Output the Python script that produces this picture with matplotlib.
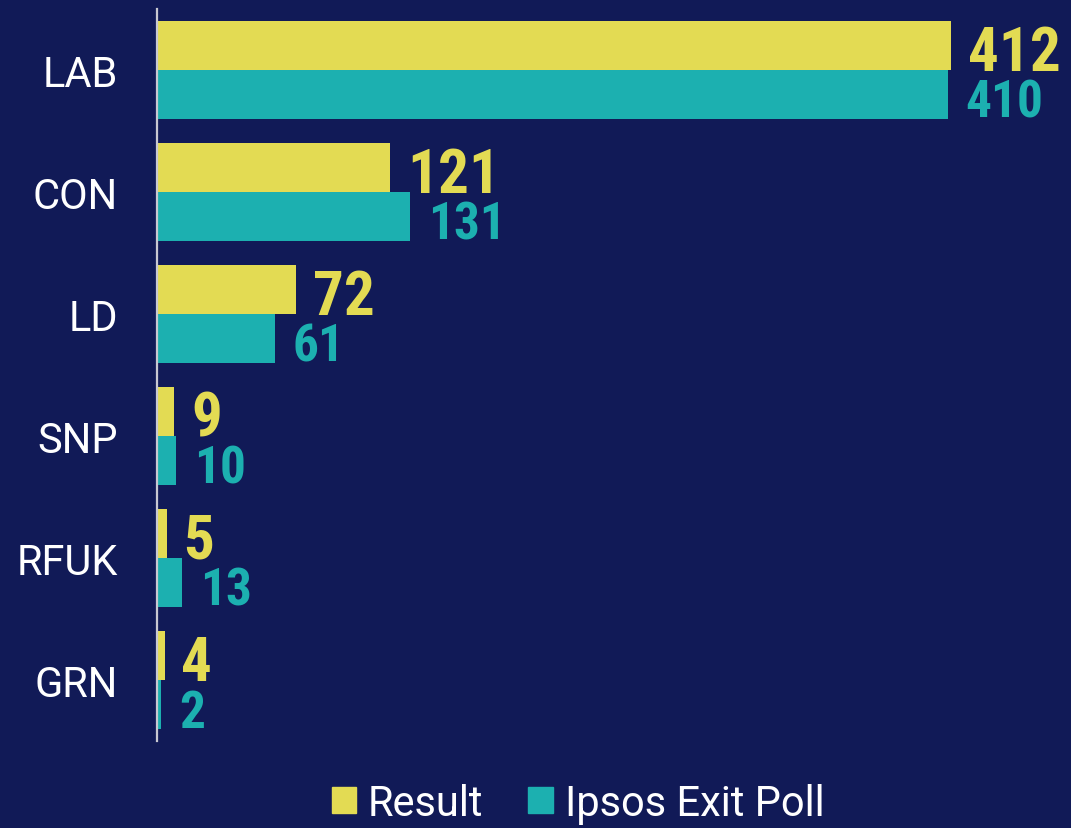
import matplotlib
matplotlib.use('Agg')
import numpy as np
import matplotlib.pyplot as plt
from matplotlib.patches import Patch

# data
parties = ['LAB', 'CON', 'LD', 'SNP', 'RFUK', 'GRN']
result = [412, 121, 72, 9, 5, 4]
exit_poll = [410, 131, 61, 10, 13, 2]

bg = '#111a57'
yellow = '#e3db53'
teal = '#1cb0b0'

num_font = ['Roboto Condensed', 'Liberation Sans Narrow', 'Roboto', 'DejaVu Sans']
lab_font = ['Roboto', 'DejaVu Sans']

fig = plt.figure(figsize=(10.71, 8.29), dpi=100, facecolor=bg)
ax = fig.add_axes([157 / 1071, 87 / 829, 1 - 157 / 1071, 732 / 829])
ax.set_facecolor(bg)

y = np.arange(len(parties))
h = 0.4
ax.barh(y - h / 2, result, height=h, color=yellow)
ax.barh(y + h / 2, exit_poll, height=h, color=teal)

for i in range(len(parties)):
    ax.annotate(str(result[i]), (result[i], y[i]), xytext=(12, 0),
                textcoords='offset points', va='baseline', ha='left',
                color=yellow, fontsize=44, fontweight='bold', family=num_font)
    ax.annotate(str(exit_poll[i]), (exit_poll[i], y[i] + h - 0.015), xytext=(13, 0),
                textcoords='offset points', va='baseline', ha='left',
                color=teal, fontsize=37, fontweight='bold', family=num_font)

ax.set_xlim(0, 474)
ax.set_ylim(5.5, -0.5)
ax.set_yticks(y)
ax.set_yticklabels(parties, fontsize=30, color='white', family=lab_font)
ax.tick_params(axis='y', length=0, pad=28)
ax.set_xticks([])
for s in ['top', 'right', 'bottom']:
    ax.spines[s].set_visible(False)
ax.spines['left'].set_color('#c8c8d2')
ax.spines['left'].set_linewidth(1.6)

handles = [Patch(color=yellow, label='Result'), Patch(color=teal, label='Ipsos Exit Poll')]
leg = fig.legend(handles=handles, loc='center', bbox_to_anchor=(578 / 1071, 0.03), ncol=2,
                 frameon=False, handlelength=0.58, handleheight=0.58, handletextpad=0.29,
                 columnspacing=1.08, prop={'family': lab_font, 'size': 30})
for t in leg.get_texts():
    t.set_color('white')

fig.savefig('out.png', dpi=100, facecolor=bg)
